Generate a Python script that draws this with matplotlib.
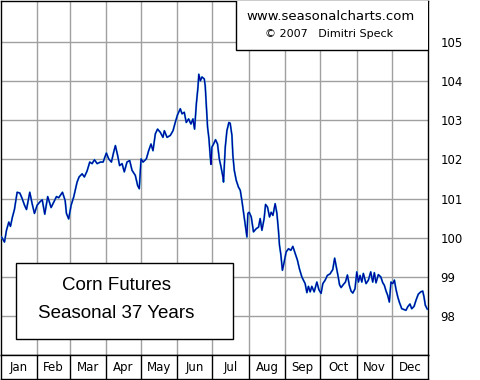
import matplotlib
matplotlib.use("Agg")
import matplotlib.pyplot as plt
from matplotlib.patches import Rectangle

# day of year / average seasonal price index
days = [0.9, 3.4, 5.1, 7.1, 8.5, 10.2, 11.9, 14.2, 16.5, 18.5, 20.5, 22.2, 25.0, 27.0,
        29.0, 31.3, 33.5, 35.6, 37.8, 40.3, 43.2, 45.5, 47.8, 49.7, 52.9, 55.2, 56.3,
        58.2, 60.3, 62.5, 65.4, 67.1, 69.7, 71.6, 73.9, 76.2, 78.2, 80.2, 82.5, 85.3,
        87.6, 90.4, 92.4, 94.7, 96.6, 98.1, 100.0, 101.7, 103.8, 105.7, 108.0, 110.3,
        112.3, 115.1, 117.1, 118.5, 120.0, 121.7, 124.5, 126.5, 128.5, 130.2, 132.2,
        134.1, 136.4, 138.7, 139.9, 142.2, 145.0, 147.3, 149.2, 151.2, 153.5, 155.0,
        156.9, 158.6, 160.6, 162.6, 164.3, 165.7, 167.2, 168.6, 169.3, 170.6, 172.0,
        174.0, 174.8, 175.7, 176.8, 178.0, 179.1, 179.7, 180.5, 181.9, 183.6, 185.3,
        186.8, 188.2, 189.9, 190.4, 191.9, 193.3, 195.0, 196.1, 197.6, 198.4, 199.6,
        201.3, 203.2, 204.7, 206.1, 207.5, 208.9, 210.4, 211.2, 212.3, 214.1, 216.0,
        218.3, 220.3, 221.7, 223.2, 225.1, 226.3, 228.0, 229.7, 231.1, 232.6, 234.5,
        236.0, 237.3, 238.2, 239.4, 240.7, 242.2, 243.9, 245.9, 247.9, 249.6, 251.6,
        253.5, 255.2, 257.3, 260.1, 261.6, 262.9, 264.4, 265.8, 267.8, 270.1, 271.8,
        273.7, 275.2, 277.2, 279.1, 281.4, 283.7, 285.3, 286.8, 288.1, 289.5, 290.8,
        292.8, 294.5, 296.2, 297.9, 299.3, 300.8, 302.7, 304.2, 305.6, 307.0, 308.5,
        309.8, 312.1, 314.1, 316.1, 317.8, 319.2, 320.6, 322.6, 324.7, 326.4, 327.7,
        329.2, 330.6, 332.0, 333.4, 334.9, 336.3, 337.7, 339.2, 340.5, 342.6, 344.5,
        346.2, 347.7, 349.6, 351.1, 353.1, 354.8, 356.7, 358.8, 360.5, 361.6, 362.7,
        364.4]
prices = [100.02, 99.89, 100.19, 100.40, 100.29, 100.53, 100.72, 101.16, 101.14, 101.00,
          100.83, 100.72, 101.16, 100.87, 100.62, 100.83, 100.91, 100.97, 100.60, 101.05,
          100.77, 100.91, 101.05, 101.02, 101.16, 100.95, 100.62, 100.48, 100.83, 101.04,
          101.42, 101.55, 101.63, 101.55, 101.70, 101.93, 101.89, 101.99, 101.89, 101.93,
          101.93, 102.16, 102.01, 101.93, 102.18, 102.35, 102.10, 101.84, 101.89, 101.68,
          101.93, 101.97, 101.72, 101.59, 101.33, 101.25, 102.01, 101.93, 102.01, 102.22,
          102.39, 102.22, 102.65, 102.77, 102.69, 102.56, 102.73, 102.56, 102.61, 102.73,
          102.94, 103.14, 103.29, 103.16, 103.20, 102.94, 103.03, 102.90, 103.03, 102.77,
          103.41, 103.84, 104.17, 104.00, 104.10, 104.05, 103.87, 103.41, 102.82, 102.52,
          102.06, 101.87, 102.31, 102.39, 102.50, 102.39, 102.01, 101.82, 101.55, 101.42,
          102.31, 102.73, 102.94, 102.92, 102.61, 102.10, 101.72, 101.46, 101.29, 101.21,
          100.95, 100.65, 100.36, 100.02, 100.62, 100.65, 100.53, 100.15, 100.23, 100.27,
          100.49, 100.19, 100.49, 100.85, 100.78, 100.53, 100.65, 100.57, 100.87, 100.62,
          100.19, 99.81, 99.56, 99.17, 99.38, 99.64, 99.72, 99.68, 99.78, 99.60,
          99.43, 99.21, 99.00, 98.83, 98.60, 98.76, 98.62, 98.76, 98.62, 98.87,
          98.68, 98.58, 98.83, 98.92, 99.04, 99.08, 99.19, 99.48, 99.25, 99.04,
          98.80, 98.73, 98.81, 98.87, 99.05, 98.78, 98.64, 98.59, 98.70, 99.13,
          98.87, 99.04, 98.87, 99.09, 98.83, 98.92, 99.13, 98.87, 99.11, 98.85,
          99.06, 99.00, 98.85, 98.79, 98.64, 98.53, 98.36, 98.87, 98.83, 98.92,
          98.68, 98.49, 98.36, 98.19, 98.17, 98.15, 98.24, 98.31, 98.19, 98.25,
          98.41, 98.56, 98.62, 98.64, 98.49, 98.28, 98.18]

months = ["Jan", "Feb", "Mar", "Apr", "May", "Jun", "Jul", "Aug", "Sep", "Oct", "Nov", "Dec"]
month_days = [31, 28, 31, 30, 31, 30, 31, 31, 30, 31, 30, 31]
yticks = [98, 99, 100, 101, 102, 103, 104, 105]

bounds = [0]
for d in month_days:
    bounds.append(bounds[-1] + d)

W, H = 480, 380
fig = plt.figure(figsize=(W / 100, H / 100), dpi=100)
fig.patch.set_facecolor("white")

def box(x0, y0, x1, y1):
    # pixel box (top-left origin) -> figure fraction rect
    return [x0 / W, 1 - y1 / H, (x1 - x0) / W, (y1 - y0) / H]

ax = fig.add_axes(box(0.5, 0.5, 428, 355))
ax.set_xlim(0, 365)
ax.set_ylim(97.01, 106.05)
for b in bounds[1:-1]:
    ax.axvline(b, color="#a0a0a0", lw=1.0, zorder=1)
for t in yticks:
    ax.axhline(t, color="#a0a0a0", lw=1.0, zorder=1)

ax.plot(days, prices, color="#30b8d8", lw=1.4, zorder=3)
ax.plot(days, prices, color="#0000a0", lw=0.9, zorder=4)

ax.set_xticks([])
ax.yaxis.tick_right()
ax.set_yticks(yticks)
ax.set_yticklabels([str(t) for t in yticks], fontsize=8.5, family="DejaVu Sans")
ax.tick_params(axis="y", length=0, pad=9)
for s in ax.spines.values():
    s.set_color("black")
    s.set_linewidth(1.0)

# watermark box in top right corner
ax.add_patch(Rectangle((236 / 428 * 365, 106.05 - 50 / 39.29), 365, 10,
                       facecolor="white", edgecolor="black", lw=1.0, zorder=6))
fig.text(331 / W, 1 - 16 / H, "www.seasonalcharts.com", ha="center", va="center",
         fontsize=9.5, color="black", zorder=7)
fig.text(329 / W, 1 - 34 / H, "\u00a9 2007   Dimitri Speck", ha="center", va="center",
         fontsize=8, color="black", zorder=7)

# title box
ax.add_patch(Rectangle((16 / 428 * 365, 98 - (339 - 316) / 39.29),
                       (233 - 16) / 428 * 365, (339 - 263) / 39.29,
                       facecolor="white", edgecolor="black", lw=1.0, zorder=6))
fig.text(116 / W, 1 - 285 / H, "Corn Futures", ha="center", va="center",
         fontsize=13.5, family="Liberation Sans", zorder=7)
fig.text(116 / W, 1 - 313 / H, "Seasonal 37 Years", ha="center", va="center",
         fontsize=13.5, family="Liberation Sans", zorder=7)

# month band below the chart
band = fig.add_axes(box(0.5, 355, 428, 379))
band.set_xlim(0, 365)
band.set_ylim(0, 1)
band.set_xticks([])
band.set_yticks([])
for b in bounds[1:-1]:
    band.axvline(b, color="black", lw=1.0)
for i, m in enumerate(months):
    band.text((bounds[i] + bounds[i + 1]) / 2, 0.48, m, ha="center", va="center",
              fontsize=8.5)
for s in band.spines.values():
    s.set_color("black")
    s.set_linewidth(1.0)

fig.savefig("out.png", dpi=100)
